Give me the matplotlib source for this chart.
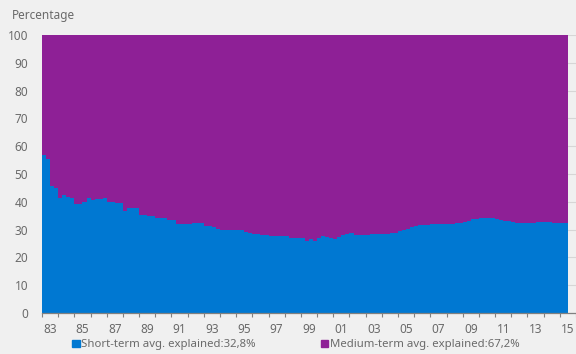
import numpy as np
import matplotlib.pyplot as plt
from matplotlib.patches import Patch

plt.rcParams['font.family'] = ['Noto Sans', 'DejaVu Sans']

# part of the variance explained by the short-term component, quarterly 1983Q1 - 2015Q2
short_term = [
    56.8, 55.3, 45.8, 44.8,   # 1983
    41.5, 42.6, 41.7, 41.4,   # 1984
    39.3, 39.3, 39.8, 41.4,   # 1985
    40.5, 41.1, 41.1, 41.4,   # 1986
    39.8, 39.8, 39.5, 39.5,   # 1987
    36.8, 37.8, 37.8, 37.7,   # 1988
    35.1, 35.1, 34.8, 34.8,   # 1989
    34.3, 34.3, 34.3, 33.3,   # 1990
    33.3, 31.9, 31.9, 31.9,   # 1991
    31.9, 32.3, 32.3, 32.3,   # 1992
    31.2, 31.2, 30.9, 30.3,   # 1993
    29.7, 29.7, 29.7, 29.7,   # 1994
    29.7, 29.7, 29.3, 28.8,   # 1995
    28.3, 28.3, 28.1, 28.1,   # 1996
    27.7, 27.7, 27.7, 27.7,   # 1997
    27.7, 27.1, 27.1, 27.1,   # 1998
    27.1, 26.0, 26.7, 25.9,   # 1999
    27.1, 27.7, 27.3, 27.1,   # 2000
    26.7, 27.5, 27.9, 28.4,   # 2001
    28.9, 28.2, 28.2, 28.2,   # 2002
    28.2, 28.3, 28.3, 28.3,   # 2003
    28.3, 28.3, 28.7, 28.7,   # 2004
    29.4, 29.9, 30.2, 30.8,   # 2005
    31.3, 31.5, 31.7, 31.8,   # 2006
    32.1, 32.1, 32.1, 32.1,   # 2007
    32.1, 32.1, 32.3, 32.3,   # 2008
    32.6, 33.2, 33.7, 33.9,   # 2009
    34.2, 34.2, 34.2, 34.2,   # 2010
    33.9, 33.5, 33.0, 33.0,   # 2011
    32.7, 32.3, 32.3, 32.5,   # 2012
    32.3, 32.3, 32.6, 32.6,   # 2013
    32.6, 32.6, 32.5, 32.3,   # 2014
    32.3, 32.3,               # 2015
]
start_year = 1983
label_years = list(range(1983, 2016, 2))
y_ticks = list(range(0, 101, 10))
legend_labels = ['Short-term avg. explained:32,8%', 'Medium-term avg. explained:67,2%']

blue = '#0078d2'
purple = '#8e2096'
grey_txt = '#6a6a6a'

short = np.array(short_term)
medium = 100 - short
x = start_year + np.arange(len(short)) / 4
# on rajoute le bord droit du dernier trimestre
xe = np.append(x, x[-1] + 0.25)
short_e = np.append(short, short[-1])
total_e = short_e + np.append(medium, medium[-1])

fig = plt.figure(figsize=(5.76, 3.54), dpi=100)
fig.patch.set_facecolor('#f0f0f0')
ax = fig.add_axes([42 / 576, 1 - 313 / 354, 1 - 42 / 576, (313 - 35) / 354])
ax.set_facecolor('#f0f0f0')

ax.fill_between(xe, 0, short_e, step='post', color=blue, lw=0, zorder=2)
ax.fill_between(xe, short_e, total_e, step='post', color=purple, lw=0, zorder=2)

ax.set_xlim(start_year, 2016)
ax.set_ylim(0, 100)
ax.set_yticks(y_ticks)
ax.yaxis.grid(True, color='#d6d6d6', lw=0.8, zorder=0)
ax.set_axisbelow(True)

ax.set_xticks(np.arange(start_year, 2017))
ax.set_xticklabels([])
ax.set_xticks([y + 0.5 for y in label_years], minor=True)
ax.set_xticklabels(['%02d' % (y % 100) for y in label_years], minor=True)
ax.tick_params(axis='x', which='major', length=3, color='#808080', width=0.8)
ax.tick_params(axis='x', which='minor', length=0, pad=7, labelsize=8.5, labelcolor=grey_txt)
ax.tick_params(axis='y', length=0, pad=10, labelsize=8.5, labelcolor=grey_txt)

for s in ['top', 'right', 'left']:
    ax.spines[s].set_visible(False)
ax.spines['bottom'].set_color('#808080')
ax.spines['bottom'].set_linewidth(0.9)
ax.spines['bottom'].set_zorder(3)

fig.text(12 / 576, 1 - 16 / 354, 'Percentage', fontsize=8.5, color=grey_txt, va='center', ha='left')

handles = [Patch(color=blue), Patch(color=purple)]
fig.legend(handles, legend_labels, ncol=2, loc='center', bbox_to_anchor=(296 / 576, 1 - 345 / 354),
           frameon=False, fontsize=8.2, labelcolor=grey_txt, handlelength=0.65, handleheight=0.65,
           handletextpad=0.15, columnspacing=5.7, borderpad=0)

fig.savefig('out.png', dpi=100, facecolor=fig.get_facecolor())
